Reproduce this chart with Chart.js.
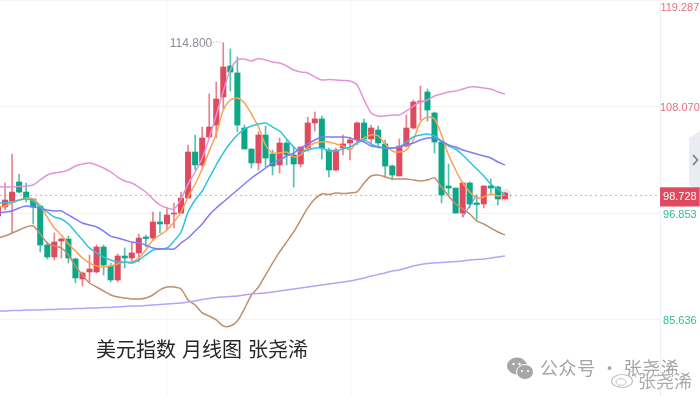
<!DOCTYPE html>
<html>
<head>
<meta charset="utf-8">
<script src="https://cdn.jsdelivr.net/npm/chart.js@4"></script>
<style>
  html, body { margin: 0; padding: 0; background: #fff; }
  #box { position: relative; width: 700px; height: 396px; overflow: hidden; font-family: "Noto Sans CJK SC", sans-serif; }
  #chart { position: absolute; left: 0; top: 0; z-index: 2; }
  .over { position: absolute; white-space: nowrap; z-index: 3; }
  #side { position: absolute; left: 689px; top: 131px; z-index: 1; }
  #title { left: 96px; top: 334px; font-size: 20px; line-height: 30px; color: #262626; word-spacing: 1.5px; }
  #wx { left: 507px; top: 357px; }
  #wxtext { left: 540px; top: 354px; font-size: 18px; line-height: 26px; color: #a3a3a3; letter-spacing: 0.6px; }
  #wb { left: 610px; top: 369px; }
  #wbtext { left: 638px; top: 368px; font-size: 18px; line-height: 24px; color: #ababab; text-shadow: 0 0 2px #fff, 0 0 2px #fff, 0 0 1px #fff; }
</style>
</head>
<body>
<div id="box">
  <svg id="side" width="11" height="62">
    <polygon points="11,0 0,7 0,54 11,61" fill="#ebecf1"/>
    <polyline points="4,24 8.5,29 4,34" fill="none" stroke="#70747f" stroke-width="1.4"/>
  </svg>
  <canvas id="chart" width="700" height="396"></canvas>
  <div class="over" id="title">美元指数 月线图 张尧浠</div>
  <svg class="over" id="wx" width="27" height="23">
    <ellipse cx="10" cy="9" rx="10" ry="8.5" fill="#a6a6a6"/>
    <ellipse cx="18" cy="15" rx="8.5" ry="7.5" fill="#a6a6a6" stroke="#fff" stroke-width="1"/>
    <circle cx="6.5" cy="7" r="1.2" fill="#fff"/><circle cx="12.5" cy="7" r="1.2" fill="#fff"/>
    <circle cx="15" cy="14" r="1.1" fill="#fff"/><circle cx="21" cy="14" r="1.1" fill="#fff"/>
  </svg>
  <div class="over" id="wxtext">公众号 · 张尧浠</div>
  <svg class="over" id="wb" width="28" height="20">
    <ellipse cx="12" cy="12" rx="10.5" ry="6.5" fill="#fff" stroke="#c4c4c4" stroke-width="1.2"/>
    <ellipse cx="11" cy="13" rx="5" ry="3.4" fill="none" stroke="#c4c4c4" stroke-width="1"/>
    <path d="M19 2 A7 7 0 0 1 26 9" fill="none" stroke="#cfcfcf" stroke-width="1.2"/>
  </svg>
  <div class="over" id="wbtext">张尧浠</div>
</div>
<script>
// candles
var opens = [96.56,97.51,98.14,100.14,99.08,98.35,97.61,93.51,92.25,93.93,
  94.14,92.04,89.93,90.67,90.67,93.30,91.30,89.83,92.35,92.14,
  92.67,94.35,94.24,95.93,95.72,96.77,96.87,98.45,103.29,101.93,
  104.87,106.13,109.08,112.34,111.61,105.82,103.61,102.14,105.08,103.08,
  101.93,104.24,102.98,102.03,103.71,106.35,106.77,103.50,101.40,103.71,
  104.24,104.56,106.35,104.66,105.61,104.14,101.82,100.77,103.92,105.82,
  108.56,109.61,107.40,104.35,99.72,99.50,96.87,100.03,97.93,97.82,
  99.72,99.61,98.35];
var closes = [97.51,98.24,99.08,99.08,98.45,97.51,93.51,92.25,93.82,94.14,
  92.14,90.04,90.56,90.98,93.30,91.40,89.83,92.35,92.14,92.67,
  94.24,94.19,95.93,95.72,96.67,96.87,98.45,103.29,101.93,104.77,
  105.92,108.87,112.24,111.71,106.13,103.61,102.14,105.08,102.66,101.82,
  104.24,102.98,102.03,103.82,106.35,106.77,103.71,101.40,103.50,104.14,
  104.56,106.35,104.66,105.82,104.24,101.82,100.87,103.92,105.82,108.56,
  108.66,107.71,104.35,98.77,99.50,96.87,100.03,97.82,97.77,99.72,
  99.50,98.35,98.99];
var highs = [97.51,100.03,103.08,100.98,100.03,98.35,97.72,93.82,94.77,94.24,
  94.45,92.14,90.67,92.46,93.51,93.51,91.61,92.56,93.19,93.72,
  94.66,94.56,96.98,96.98,97.51,97.93,99.08,104.03,105.08,105.92,
  109.40,110.66,114.80,114.13,113.29,106.13,103.61,105.40,106.03,103.50,
  104.77,104.56,103.82,103.82,106.98,107.50,107.08,103.71,103.71,105.08,
  104.87,106.45,106.77,106.13,106.03,104.56,101.93,104.66,107.19,108.77,
  110.24,109.92,107.50,104.45,102.03,99.50,100.14,100.14,98.77,99.72,
  100.45,99.72,99.08];
var lows = [96.35,97.19,94.77,98.98,98.03,95.72,92.77,92.04,91.93,92.14,
  91.61,89.51,89.19,89.62,90.56,90.35,89.62,89.62,91.09,91.61,
  91.72,93.30,93.93,94.77,95.09,95.30,96.87,98.45,101.40,101.71,
  104.77,104.77,107.82,109.71,105.40,103.61,101.61,101.40,101.71,100.87,
  101.09,101.93,99.61,101.71,103.40,105.50,102.56,100.66,101.29,102.98,
  102.45,104.03,104.35,104.24,103.71,100.66,100.35,100.77,103.82,105.71,
  106.66,106.56,103.19,97.93,98.77,96.87,96.45,97.40,96.24,97.40,
  98.98,97.72,98.35];

// indicator lines
var maOrange = [97.51,97.61,97.93,98.24,98.45,98.35,97.61,96.45,95.30,94.56,
  93.61,92.88,92.14,91.61,91.30,91.19,91.30,91.51,91.72,91.72,
  92.14,92.98,94.03,94.56,95.09,95.93,96.98,98.56,99.93,101.50,
  103.40,105.19,107.71,108.77,108.97,108.45,107.29,105.92,104.03,103.19,
  103.19,103.29,102.77,102.98,103.82,104.24,104.35,104.35,104.14,103.92,
  103.50,104.35,104.77,105.08,104.98,104.14,103.40,103.29,103.50,104.56,
  106.45,106.98,106.77,105.08,102.98,101.40,100.03,99.08,98.45,98.56,
  98.87,98.66,98.77];
var maCyan = [97.93,97.93,98.03,98.24,98.35,98.14,97.51,96.98,96.45,96.24,
  95.72,94.88,94.03,93.19,92.67,92.25,91.93,91.72,91.72,91.61,
  91.93,92.46,92.98,93.09,93.19,93.93,94.88,96.98,98.24,99.19,
  100.56,101.93,103.19,104.24,105.08,105.71,106.03,106.24,106.35,105.92,
  105.50,104.66,103.82,103.29,103.50,103.71,103.71,103.40,103.40,103.61,
  103.82,104.24,104.56,104.14,103.82,103.71,103.71,103.82,104.35,104.87,
  105.08,105.19,104.98,104.45,103.92,103.61,102.98,102.24,101.50,100.77,
  99.93,99.40,98.77];
var maBlue = [96.87,96.98,97.09,97.40,97.61,97.51,97.40,97.19,97.09,97.09,
  96.67,96.24,95.82,95.61,95.40,94.98,94.45,94.24,94.03,93.82,
  93.72,93.51,93.19,93.09,93.09,93.09,93.72,94.24,94.98,95.72,
  96.67,97.40,98.03,98.66,99.29,99.93,100.56,101.08,101.61,102.14,
  102.45,102.87,103.19,103.71,104.14,104.56,104.87,104.87,104.87,104.87,
  104.77,104.56,104.35,103.92,103.82,103.71,103.71,103.82,104.03,104.24,
  104.56,104.77,104.77,104.45,104.03,103.82,103.50,103.29,103.08,102.87,
  102.66,102.24,101.93];
var bandUpper = [99.66,99.61,99.61,99.66,99.72,99.82,100.35,100.87,101.08,101.19,
  101.40,101.82,102.03,102.14,101.93,101.61,101.19,100.66,100.24,100.03,
  99.61,99.08,98.35,97.72,97.40,97.30,98.35,99.93,101.19,102.66,
  104.77,107.19,109.71,111.92,112.97,113.08,112.87,113.13,112.97,112.76,
  112.66,112.34,111.92,111.71,111.61,111.19,110.87,110.92,110.87,110.82,
  110.76,110.34,108.77,107.40,107.08,107.08,107.19,107.19,107.61,108.13,
  108.55,108.77,109.19,109.40,109.61,109.71,109.92,110.13,110.13,110.03,
  109.92,109.61,109.40];
var bandLower = [94.25,94.46,94.77,95.09,95.40,95.51,94.67,93.72,93.41,93.20,
  92.46,91.30,90.35,89.51,89.09,88.67,88.25,88.04,87.94,87.83,
  87.83,87.94,88.25,88.78,89.09,89.09,88.88,87.72,87.20,86.36,
  86.04,85.62,84.99,84.99,85.52,86.78,88.25,89.09,90.35,91.61,
  92.78,93.83,94.88,96.15,97.41,98.35,98.88,98.83,98.99,98.93,
  98.99,99.09,100.04,100.77,100.88,100.67,100.46,100.46,100.46,100.35,
  100.25,100.35,100.56,99.61,98.67,97.83,97.30,96.78,96.04,95.72,
  95.30,94.88,94.56];
var maPurple = [86.57,86.57,86.62,86.62,86.67,86.67,86.67,86.73,86.73,86.78,
  86.78,86.83,86.83,86.88,86.88,86.94,86.94,86.99,87.04,87.09,
  87.09,87.15,87.20,87.25,87.30,87.36,87.41,87.51,87.62,87.78,
  87.88,87.99,88.04,88.09,88.14,88.25,88.35,88.41,88.46,88.57,
  88.67,88.78,88.88,88.99,89.09,89.20,89.30,89.41,89.51,89.62,
  89.72,89.88,90.04,90.25,90.41,90.57,90.78,90.88,91.09,91.30,
  91.46,91.56,91.62,91.67,91.72,91.77,91.83,91.93,91.99,92.04,
  92.14,92.25,92.35];

// price axis
var tickValues = [119.287, 108.07, 98.728, 96.853, 85.636];
var lastPrice = 98.728;
var highLabel = 114.8;
var gridMonths = [24, 50];

var RED = '#e04a5e';
var GREEN = '#0da687';

var candleIdx = opens.map(function (v, i) { return i; });
var candleColors = candleIdx.map(function (i) { return closes[i] >= opens[i] ? RED : GREEN; });
var wickColors = candleIdx.map(function (i) { return closes[i] >= opens[i] ? 'rgba(226,80,100,0.72)' : 'rgba(20,170,140,0.72)'; });

function lineSet(values, color) {
    return {
        type: 'line',
        data: values.map(function (v, i) { return { x: i, y: v }; }),
        borderColor: color,
        borderWidth: 1.5,
        pointRadius: 0,
        tension: 0.25,
        order: 1
    };
}

var xMin = 0.284;
var xMax = 94.03;

// label above the highest candle
var highLabelPlugin = {
    id: 'highLabel',
    afterDatasetsDraw: function (chart) {
        var ctx = chart.ctx;
        var i = highs.indexOf(highLabel);
        var px = chart.scales.x.getPixelForValue(i);
        var py = chart.scales.y.getPixelForValue(highLabel);
        ctx.save();
        ctx.font = '12px "Liberation Sans"';
        ctx.fillStyle = '#8a8d96';
        ctx.textAlign = 'right';
        ctx.textBaseline = 'middle';
        ctx.fillText(highLabel.toFixed(3), px - 11, py + 1);
        ctx.strokeStyle = '#a2a5ad';
        ctx.setLineDash([1, 2]);
        ctx.beginPath();
        ctx.moveTo(px - 10, py - 0.5);
        ctx.lineTo(px - 1, py - 0.5);
        ctx.stroke();
        ctx.restore();
    }
};

var ctx = document.getElementById('chart').getContext('2d');
var myChart = new Chart(ctx, {
    type: 'bar',
    data: {
        datasets: [
            {
                label: 'wick',
                data: candleIdx.map(function (i) { return { x: i, y: [lows[i], highs[i]] }; }),
                backgroundColor: wickColors,
                barThickness: 1,
                grouped: false,
                order: 3
            },
            {
                label: 'body',
                data: candleIdx.map(function (i) { return { x: i, y: [opens[i], closes[i]] }; }),
                backgroundColor: candleColors,
                barThickness: 5.4,
                grouped: false,
                order: 2
            },
            lineSet(maPurple, '#b8a2f3'),
            lineSet(bandLower, '#c08f6a'),
            lineSet(bandUpper, '#e493da'),
            lineSet(maBlue, '#7d7ef6'),
            lineSet(maCyan, '#33c2de'),
            lineSet(maOrange, '#ff9f50'),
            {
                type: 'line',
                data: [{ x: 66, y: 96.45 }, { x: 68, y: 98.77 }],
                borderColor: '#7d7ef6',
                borderWidth: 1.1,
                pointRadius: 0,
                order: 1
            },
            {
                type: 'line',
                data: [{ x: xMin, y: lastPrice }, { x: xMax, y: lastPrice }],
                borderColor: 'rgba(226,90,110,0.55)',
                borderWidth: 1,
                borderDash: [2, 3],
                pointRadius: 0,
                order: 4
            },
            {
                type: 'scatter',
                data: [{ x: 72, y: lastPrice }],
                backgroundColor: 'rgba(226,80,100,0.13)',
                pointRadius: 6,
                order: 1
            }
        ]
    },
    options: {
        responsive: false,
        animation: false,
        events: [],
        layout: { padding: 0, autoPadding: false },
        plugins: { legend: { display: false }, tooltip: { enabled: false } },
        scales: {
            x: {
                type: 'linear',
                offset: false,
                min: xMin,
                max: xMax,
                afterBuildTicks: function (scale) {
                    scale.ticks = gridMonths.map(function (v) { return { value: v }; });
                },
                afterFit: function (scale) { scale.height = 0; scale.paddingLeft = 0; scale.paddingRight = 0; },
                ticks: { display: false },
                border: { display: false },
                grid: { color: '#f5f6f8', lineWidth: 1, drawTicks: false, offset: false }
            },
            y: {
                position: 'right',
                min: 77.62,
                max: 119.287,
                afterBuildTicks: function (scale) {
                    scale.ticks = tickValues.map(function (v) { return { value: v }; });
                },
                afterFit: function (scale) { scale.width = 40; scale.paddingTop = 0; scale.paddingBottom = 0; },
                border: { color: '#eeeff2' },
                grid: {
                    drawTicks: false,
                    color: function (c) { return c.tick && c.tick.value === lastPrice ? 'rgba(0,0,0,0)' : '#f2f3f5'; }
                },
                ticks: {
                    autoSkip: false,
                    padding: 0,
                    labelOffset: 1.5,
                    crossAlign: 'center',
                    font: { family: '"Liberation Sans"', size: 11 },
                    callback: function (v) {
                        // top label sits below the edge of the chart
                        return v === tickValues[0] ? ['', v.toFixed(3)] : v.toFixed(3);
                    },
                    color: function (c) {
                        if (c.tick.value === lastPrice) return '#ffffff';
                        return c.tick.value > lastPrice ? '#ec6d7d' : '#2dbb9c';
                    },
                    showLabelBackdrop: function (c) { return c.tick.value === lastPrice; },
                    backdropColor: '#e04a5e',
                    backdropPadding: { left: 3, right: 3, top: 3, bottom: 3 }
                }
            }
        }
    },
    plugins: [highLabelPlugin]
});
</script>
</body>
</html>
